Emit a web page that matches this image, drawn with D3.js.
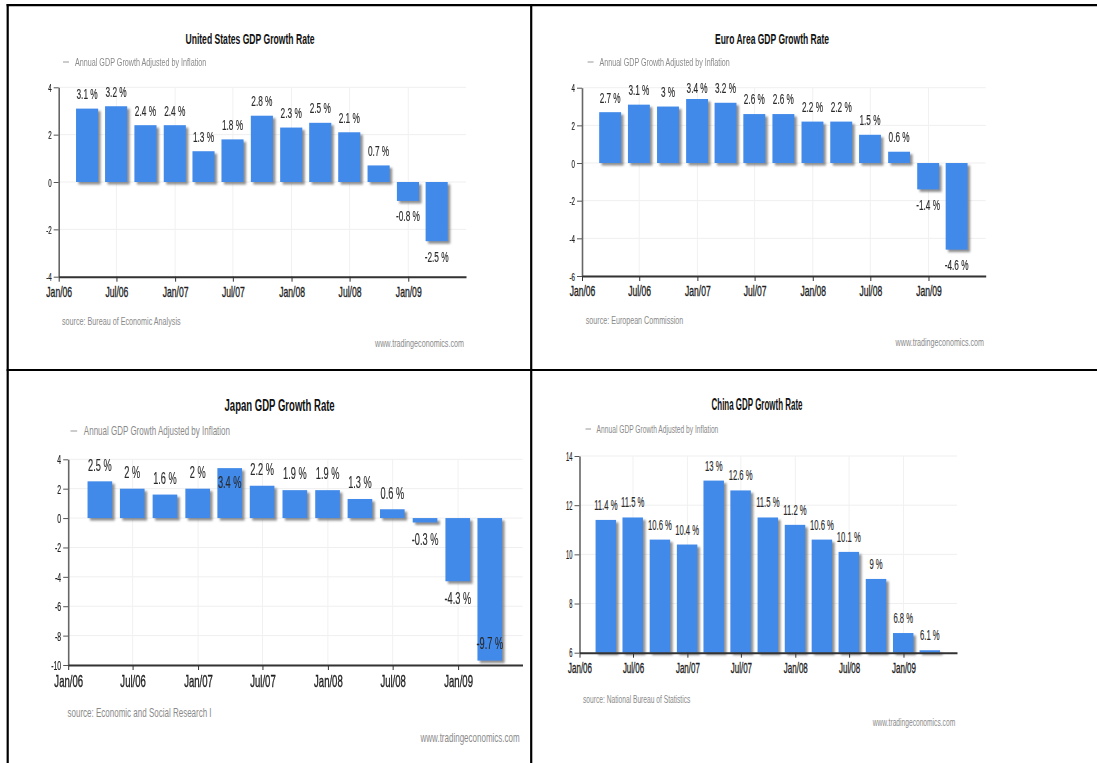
<!DOCTYPE html>
<html>
<head>
<meta charset="utf-8">
<script src="https://cdn.jsdelivr.net/npm/d3@7"></script>
<style>
  html, body { margin: 0; padding: 0; background: #fff; }
  svg { display: block; font-family: "Liberation Sans", Arial, sans-serif; }
</style>
</head>
<body>
<svg id="chart" width="1097" height="763"></svg>
<script>
// Quarterly annual GDP growth, Q1 2006 – Q1 2009
const quarters = ["2006-03-31","2006-06-30","2006-09-30","2006-12-31",
                  "2007-03-31","2007-06-30","2007-09-30","2007-12-31",
                  "2008-03-31","2008-06-30","2008-09-30","2008-12-31",
                  "2009-03-31"];
const usGrowth    = [3.1, 3.2, 2.4, 2.4, 1.3, 1.8, 2.8, 2.3, 2.5, 2.1, 0.7, -0.8, -2.5];
const euroGrowth  = [2.7, 3.1, 3, 3.4, 3.2, 2.6, 2.6, 2.2, 2.2, 1.5, 0.6, -1.4, -4.6];
const japanGrowth = [2.5, 2, 1.6, 2, 3.4, 2.2, 1.9, 1.9, 1.3, 0.6, -0.3, -4.3, -9.7];
const chinaGrowth = [11.4, 11.5, 10.6, 10.4, 13, 12.6, 11.5, 11.2, 10.6, 10.1, 9, 6.8, 6.1];

const usTicks    = [-4, -2, 0, 2, 4];
const euroTicks  = [-6, -4, -2, 0, 2, 4];
const japanTicks = [-10, -8, -6, -4, -2, 0, 2, 4];
const chinaTicks = [6, 8, 10, 12, 14];

const titles  = ["United States GDP Growth Rate", "Euro Area GDP Growth Rate",
                 "Japan GDP Growth Rate", "China GDP Growth Rate"];
const sources = ["source: Bureau of Economic Analysis", "source: European Commission",
                 "source: Economic and Social Research I", "source: National Bureau of Statistics"];
const seriesName = "Annual GDP Growth Adjusted by Inflation";
const siteName = "www.tradingeconomics.com";

const parse = d3.timeParse("%Y-%m-%d");
const dates = quarters.map(parse);
const xStart = new Date(2006, 0, 1), xEnd = new Date(2009, 6, 1);
const xTickDates = d3.timeMonth.every(6).range(xStart, xEnd);

// Panel geometry (pixel frame of each chart and its text)
const panels = [
  { values: usGrowth, ticks: usTicks, title: titles[0], source: sources[0],
    left: 58.7, right: 466, top: 87.3, bottom: 276.7,
    titleX: 250, titleY: 39, legendX: 63, legendY: 62, sourceX: 62, sourceY: 321,
    siteX: 464, siteY: 343, fh: 1.0, fv: 1.0 },
  { values: euroGrowth, ticks: euroTicks, title: titles[1], source: sources[1],
    left: 582, right: 985.7, top: 87.7, bottom: 276,
    titleX: 772, titleY: 39, legendX: 587.6, legendY: 62, sourceX: 585.8, sourceY: 320,
    siteX: 984, siteY: 342, fh: 0.992, fv: 1.0 },
  { values: japanGrowth, ticks: japanTicks, title: titles[2], source: sources[2],
    left: 68.2, right: 522.5, top: 459.3, bottom: 665,
    titleX: 279.6, titleY: 405, legendX: 70.5, legendY: 431, sourceX: 67.5, sourceY: 712.7,
    siteX: 519.7, siteY: 737.7, fh: 1.112, fv: 1.12 },
  { values: chinaGrowth, ticks: chinaTicks, title: titles[3], source: sources[3],
    left: 579.5, right: 957, top: 456, bottom: 652.7,
    titleX: 757, titleY: 404.3, legendX: 585.5, legendY: 429, sourceX: 583, sourceY: 699,
    siteX: 955.2, siteY: 722.3, fh: 0.927, fv: 1.04 }
];

// Text styles: vertical font size and horizontal em width (condensed look)
const textStyles = {
  title: { size: 15,   em: 8.59, weight: "bold",   fill: "#111",    stroke: 0 },
  small: { size: 10.8, em: 7.2,  weight: "normal", fill: "#8a8a8a", stroke: 0 },
  xtick: { size: 14,   em: 8.6,  weight: "normal", fill: "#1e1e1e", stroke: 0.35 },
  ytick: { size: 11.5, em: 6.2,  weight: "normal", fill: "#222",    stroke: 0.2 },
  value: { size: 14,   em: 8.3,  weight: "normal", fill: "#2a2a2a", stroke: 0.15 }
};

const barColor = "#428aea";
const svg = d3.select("#chart");

const defs = svg.append("defs");
defs.append("filter").attr("id", "soft")
  .attr("x", "-20%").attr("y", "-20%").attr("width", "140%").attr("height", "140%")
  .append("feGaussianBlur").attr("stdDeviation", 0.8);

function styleOf(kind, p) {
  const s = textStyles[kind];
  const size = s.size * p.fv;
  return { size, sx: (s.em * p.fh) / size, weight: s.weight, fill: s.fill, stroke: s.stroke };
}

function applyStroke(sel, s) {
  if (s.stroke > 0) sel.attr("stroke", s.fill).attr("stroke-width", s.stroke);
  return sel;
}

function addText(g, kind, p, x, y, str, anchor) {
  const s = styleOf(kind, p);
  const t = g.append("text")
    .attr("transform", `translate(${x},${y}) scale(${s.sx},1)`)
    .attr("dy", "0.35em")
    .attr("text-anchor", anchor)
    .attr("font-size", s.size)
    .attr("font-weight", s.weight)
    .attr("fill", s.fill)
    .text(str);
  return applyStroke(t, s);
}

panels.forEach(p => {
  const g = svg.append("g");
  const x = d3.scaleTime().domain([xStart, xEnd]).range([p.left, p.right]);
  const y = d3.scaleLinear().domain(d3.extent(p.ticks)).range([p.bottom, p.top]);
  const quarterPx = x(new Date(2006, 3, 1)) - x(xStart);
  const barW = quarterPx * 0.77;
  const base = y.domain()[0] > 0 ? y.domain()[0] : 0;

  // grid
  g.append("g").selectAll("line").data(p.ticks).join("line")
    .attr("x1", p.left).attr("x2", p.right)
    .attr("y1", d => y(d)).attr("y2", d => y(d))
    .attr("stroke", "#efefef").attr("stroke-width", 1);
  g.append("g").selectAll("line").data(xTickDates.slice(1)).join("line")
    .attr("x1", d => x(d)).attr("x2", d => x(d))
    .attr("y1", p.top).attr("y2", p.bottom)
    .attr("stroke", "#f1f1f1").attr("stroke-width", 1);

  const rows = dates.map((d, i) => ({ date: d, value: p.values[i] }));

  // shadows
  g.append("g").attr("filter", "url(#soft)").selectAll("rect").data(rows).join("rect")
    .attr("x", d => x(d.date) - barW / 2 + 2.5)
    .attr("y", d => Math.min(y(d.value), y(base)) + 2.5)
    .attr("width", barW)
    .attr("height", d => Math.abs(y(d.value) - y(base)))
    .attr("fill", "#6b6b6b").attr("opacity", 0.75);

  // bars
  g.append("g").selectAll("rect").data(rows).join("rect")
    .attr("x", d => x(d.date) - barW / 2)
    .attr("y", d => Math.min(y(d.value), y(base)))
    .attr("width", barW)
    .attr("height", d => Math.abs(y(d.value) - y(base)))
    .attr("fill", barColor);

  // y axis
  const ys = styleOf("ytick", p);
  const yAxis = g.append("g").attr("transform", `translate(${p.left},0)`)
    .call(d3.axisLeft(y).tickValues(p.ticks).tickSize(5).tickSizeOuter(0).tickFormat(d => String(d)));
  yAxis.select(".domain").attr("stroke", "#666").attr("stroke-width", 1.6);
  yAxis.selectAll(".tick line").attr("stroke", "#555");
  applyStroke(yAxis.selectAll(".tick text")
    .attr("x", null).attr("dy", "0.35em")
    .attr("transform", `translate(-7,0) scale(${ys.sx},1)`)
    .attr("font-size", ys.size).attr("font-family", null).attr("fill", ys.fill), ys);

  // x axis
  const xs = styleOf("xtick", p);
  const xAxis = g.append("g").attr("transform", `translate(0,${p.bottom})`)
    .call(d3.axisBottom(x).tickValues(xTickDates).tickSize(5).tickSizeOuter(0)
      .tickFormat(d3.timeFormat("%b/%y")));
  xAxis.select(".domain").attr("stroke", "#333").attr("stroke-width", 2);
  xAxis.selectAll(".tick line").attr("stroke", "#333");
  applyStroke(xAxis.selectAll(".tick text")
    .attr("y", null).attr("dy", "0.35em")
    .attr("transform", `translate(0,${15 * p.fv}) scale(${xs.sx},1)`)
    .attr("font-size", xs.size).attr("font-family", null).attr("fill", xs.fill), xs);

  // value labels: outside the bar end, kept within the plot
  const above = 14.5 * p.fv, below = 15.5 * p.fv;
  rows.forEach(d => {
    const yEnd = y(d.value);
    let cy;
    if (d.value >= 0) {
      cy = yEnd - above;
      if (cy < p.top - 5) cy = yEnd + 12.5 * p.fv;
      else cy = Math.max(cy, p.top);
    } else {
      cy = yEnd + below;
      if (cy > p.bottom + 5) cy = yEnd - 15 * p.fv;
      else cy = Math.min(cy, p.bottom);
    }
    addText(g, "value", p, x(d.date), cy, `${d.value} %`, "middle");
  });

  // title, legend, source, site
  addText(g, "title", p, p.titleX, p.titleY, p.title, "middle");
  g.append("line")
    .attr("x1", p.legendX).attr("x2", p.legendX + 6 * p.fh)
    .attr("y1", p.legendY).attr("y2", p.legendY)
    .attr("stroke", "#999").attr("stroke-width", 1);
  addText(g, "small", p, p.legendX + 12 * p.fh, p.legendY, seriesName, "start");
  addText(g, "small", p, p.sourceX, p.sourceY, p.source, "start");
  addText(g, "small", p, p.siteX, p.siteY, siteName, "end");
});

// panel frame
const frame = svg.append("g").attr("stroke", "#000").attr("stroke-width", 2.2);
frame.append("line").attr("x1", 6.6).attr("x2", 1097).attr("y1", 5.2).attr("y2", 5.2);
frame.append("line").attr("x1", 7.7).attr("x2", 7.7).attr("y1", 4.1).attr("y2", 763);
frame.append("line").attr("x1", 6.6).attr("x2", 1097).attr("y1", 370).attr("y2", 370);
frame.append("line").attr("x1", 531.2).attr("x2", 531.2).attr("y1", 4.1).attr("y2", 763);
</script>
</body>
</html>
